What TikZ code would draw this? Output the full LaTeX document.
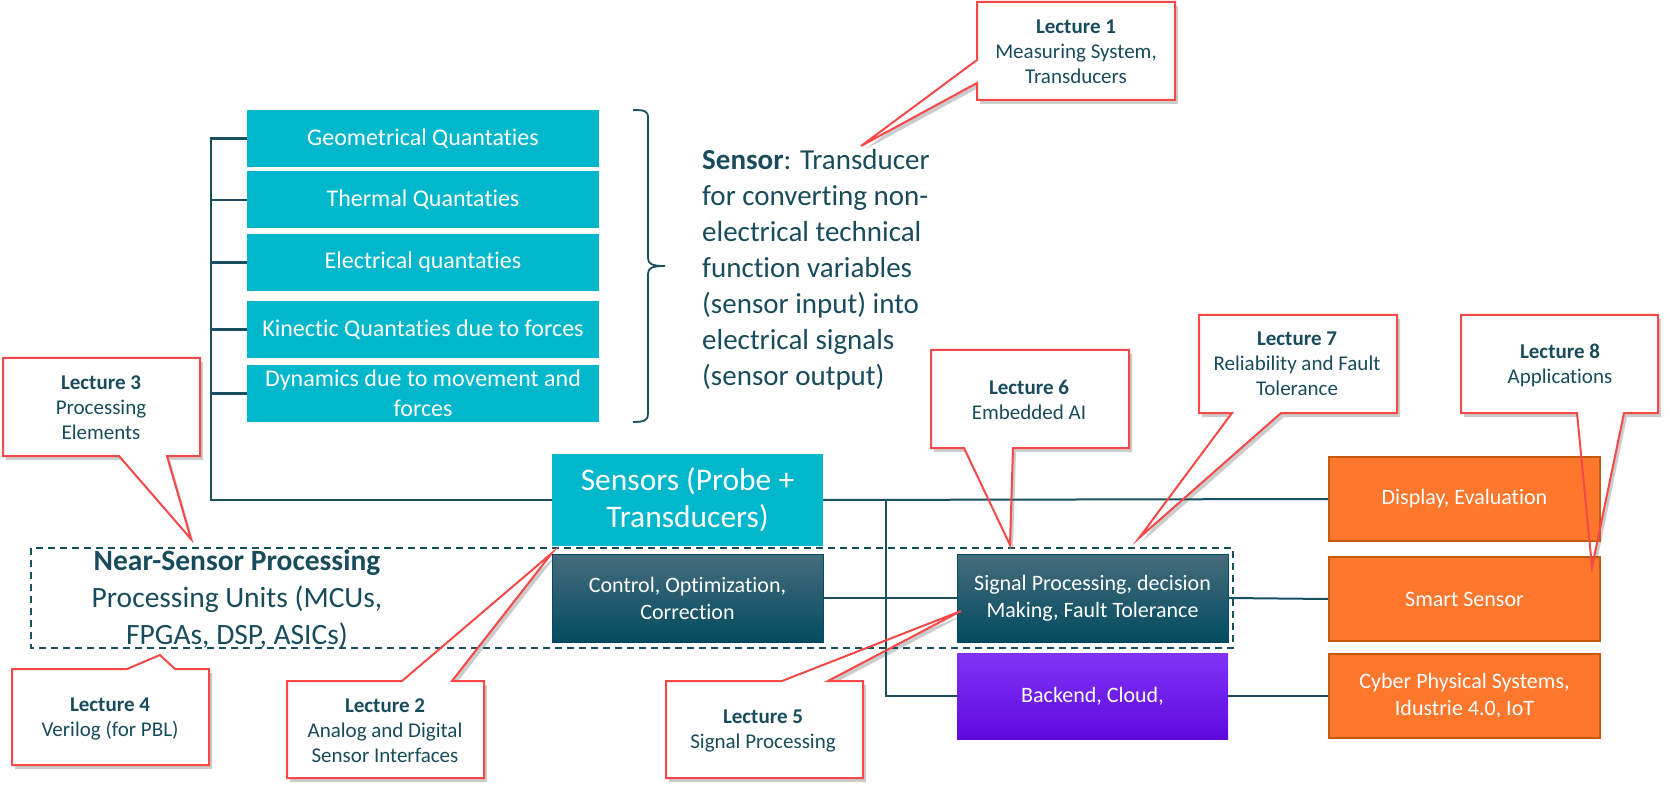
\documentclass[tikz,border=0pt]{standalone}
\usepackage{fontspec}
\setmainfont{Carlito}[Ligatures=CommonOff]
\definecolor{cyanc}{RGB}{0,183,204}
\definecolor{linec}{RGB}{25,80,96}
\definecolor{textc}{RGB}{24,76,92}
\definecolor{orangef}{RGB}{255,119,45}
\definecolor{oranged}{RGB}{197,90,17}
\definecolor{calr}{RGB}{245,72,72}
\definecolor{darktop}{RGB}{70,108,124}
\definecolor{darkbot}{RGB}{3,75,95}
\definecolor{purtop}{RGB}{128,52,246}
\definecolor{purbot}{RGB}{96,8,222}
\newcommand\cOne[1]{\path[#1] (977,2) -- (1175,2) -- (1175,100) -- (977,100) -- (977,83) -- (861,146) -- (977,60) -- cycle;}
\newcommand\cTwo[1]{\path[#1] (287,681) -- (402,681) -- (552,553) -- (452,681) -- (484,681) -- (484,778) -- (287,778) -- cycle;}
\newcommand\cThree[1]{\path[#1] (3,358) -- (200,358) -- (200,456) -- (167,456) -- (191,539) -- (119,456) -- (3,456) -- cycle;}
\newcommand\cFour[1]{\path[#1] (12,669) -- (127,669) -- (160,655) -- (175,669) -- (209,669) -- (209,765) -- (12,765) -- cycle;}
\newcommand\cFive[1]{\path[#1] (666,681) -- (782,681) -- (961,611) -- (828,681) -- (863,681) -- (863,778) -- (666,778) -- cycle;}
\newcommand\cSix[1]{\path[#1] (931,350) -- (1129,350) -- (1129,448) -- (1013,448) -- (1010,545) -- (964,448) -- (931,448) -- cycle;}
\newcommand\cSeven[1]{\path[#1] (1199,315) -- (1397,315) -- (1397,413) -- (1281,413) -- (1139,538) -- (1232,413) -- (1199,413) -- cycle;}
\newcommand\cEight[1]{\path[#1] (1461,315) -- (1658,315) -- (1658,413) -- (1624,413) -- (1592,567) -- (1577,413) -- (1461,413) -- cycle;}
\newcommand\cfill[1]{#1{fill=black,opacity=0.2,shift={(3,4)}}#1{fill=white}}
\begin{document}
\begin{tikzpicture}[x=1pt,y=-1pt,
  conn/.style={draw=linec, line width=2.5pt},
  border/.style={draw=calr, line width=2pt, line join=miter},
  qbox/.style={fill=cyanc, text=white, minimum width=352pt, minimum height=57pt, inner sep=0pt, align=center, font=\fontsize{24}{30}\selectfont},
  darkbox/.style={top color=darktop, bottom color=darkbot, draw=darkbot, line width=0.8pt, text=white, minimum width=271pt, minimum height=88pt, inner sep=0pt, align=center, font=\fontsize{22}{27}\selectfont},
  purbox/.style={top color=purtop, bottom color=purbot, text=white, minimum width=271pt, minimum height=86pt, inner sep=0pt, align=center, font=\fontsize{22}{27}\selectfont},
  orbox/.style={fill=orangef, draw=oranged, line width=2pt, text=white, minimum width=271pt, minimum height=84pt, inner sep=0pt, align=center, font=\fontsize{22}{27}\selectfont},
  lect/.style={text=textc, align=center, inner sep=0pt, font=\fontsize{21}{25}\selectfont}]
\useasboundingbox (0,0) rectangle (1670,791);
% callout fills and shadows
\cfill\cOne \cfill\cTwo \cfill\cThree \cfill\cFour
\cfill\cFive \cfill\cSix \cfill\cSeven \cfill\cEight
% quantity boxes
\node[qbox] (q1) at (423,138.5) {Geometrical Quantaties};
\node[qbox] (q2) at (423,200) {Thermal Quantaties};
\node[qbox] (q3) at (423,262.5) {Electrical quantaties};
\node[qbox] (q4) at (423,329.5) {Kinectic Quantaties due to forces};
\node[qbox] (q5) at (423,393.5) {Dynamics due to movement and\\forces};
% brace
\draw[draw=linec, line width=1.8pt] (633,110) .. controls (645,110) and (648,111) .. (648,118) -- (648,258) .. controls (648,264) and (652,266) .. (665,266) .. controls (652,266) and (648,268) .. (648,274) -- (648,414) .. controls (648,420) and (645,422) .. (633,422);
% sensor text
\node[text=textc, align=left, anchor=west, inner sep=0pt, font=\fontsize{29}{36}\selectfont] (sdef) at (702,270)
 {\textbf{Sensor}: Transducer\\for converting non-\\electrical technical\\function variables\\(sensor input) into\\electrical signals\\(sensor output)};
% main boxes
\node[fill=cyanc, text=white, minimum width=271pt, minimum height=92pt, inner sep=0pt, align=center, font=\fontsize{31.5}{37}\selectfont] (sens) at (687.5,500) {Sensors (Probe +\\Transducers)};
\node[darkbox] (ctrl) at (687.5,598) {Control, Optimization,\\Correction};
\node[darkbox] (sig) at (1092.5,598) {Signal Processing, decision\\Making, Fault Tolerance};
\node[purbox] (back) at (1092.5,696) {Backend, Cloud,};
\node[orbox] (disp) at (1464.5,499) {Display, Evaluation};
\node[orbox] (smart) at (1464.5,599) {Smart Sensor};
\node[orbox] (cps) at (1464.5,696) {Cyber Physical Systems,\\Idustrie 4.0, IoT};
% dashed near-sensor region
\draw[draw=linec, line width=2pt, dash pattern=on 7pt off 5pt] (31,548) rectangle (1233,648);
\node[text=textc, align=center, inner sep=0pt, font=\fontsize{29.5}{37}\selectfont] (nsp) at (237,599)
 {\textbf{Near-Sensor Processing}\\Processing Units (MCUs,\\FPGAs, DSP, ASICs)};
% connectors
\coordinate (bx) at (211,138.5);
\draw[conn] (q1.west) -- (bx) |- (sens.west);
\foreach \q in {q2,q3,q4,q5} \draw[conn] (\q.west) -- (bx |- \q.west);
\coordinate (jn) at (886,500);
\draw[conn, line width=2pt] (sens.east) -- (disp.west);
\draw[conn, line width=2pt] (jn) |- (back.west);
\draw[conn, line width=2pt] (ctrl.east) -- (sig.west);
\draw[conn, line width=2pt] (sig.east) -- (smart.west);
\draw[conn, line width=2pt] (back.east) -- (cps.west);
% callout borders
\cOne{border} \cTwo{border} \cThree{border} \cFour{border}
\cFive{border} \cSix{border} \cSeven{border} \cEight{border}
% callout texts
\node[lect] (l1) at (1076,52) {\textbf{Lecture 1}\\Measuring System,\\Transducers};
\node[lect] (l2) at (385,731) {\textbf{Lecture 2}\\Analog and Digital\\Sensor Interfaces};
\node[lect] (l3) at (101,408) {\textbf{Lecture 3}\\Processing\\Elements};
\node[lect] (l4) at (110,718.5) {\textbf{Lecture 4}\\Verilog (for PBL)};
\node[lect] (l5) at (763,731) {\textbf{Lecture 5}\\Signal Processing};
\node[lect] (l6) at (1029,399.5) {\textbf{Lecture 6}\\Embedded AI};
\node[lect] (l7) at (1297,364) {\textbf{Lecture 7}\\Reliability and Fault\\Tolerance};
\node[lect] (l8) at (1560,365.5) {\textbf{Lecture 8}\\Applications};
\end{tikzpicture}
\end{document}
